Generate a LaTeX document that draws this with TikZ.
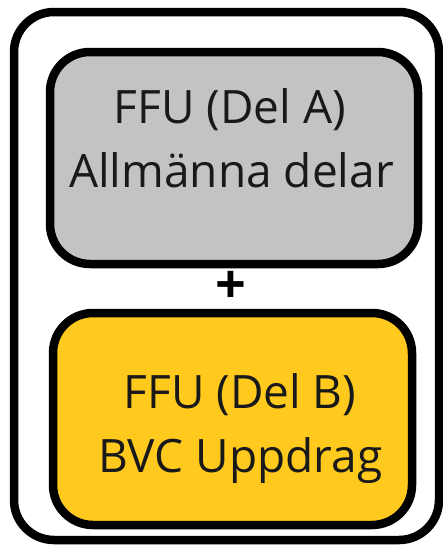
\documentclass[tikz,border=0pt]{standalone}
\usepackage{fontspec}
\setmainfont{Open Sans}
\begin{document}
\begin{tikzpicture}[x=1pt,y=-1pt,
  frame/.style={draw=black,line width=8.5pt,rounded corners=40pt,inner sep=0pt},
  boxA/.style={frame,fill=boxgray},
  boxB/.style={frame,fill=boxyellow},
  lbl/.style={anchor=base,inner sep=0pt,font=\fontsize{46}{52}\selectfont,text=black!90},
  plus/.style={inner sep=0pt,font=\fontsize{54}{60}\selectfont\bfseries}]
\definecolor{boxgray}{HTML}{C3C3C3}
\definecolor{boxyellow}{HTML}{FFC91E}
\useasboundingbox (0,0) rectangle (443,547);
\node[frame,minimum width=425pt,minimum height=528pt] (outer) at (226.5,276) {};
\node[boxA,minimum width=368pt,minimum height=212pt] (a) at (234,158) {};
\node[boxB,minimum width=359pt,minimum height=212pt] (b) at (232.5,419) {};
\node[lbl] (a1) at (230,123) {FFU (Del A)};
\node[lbl] (a2) at (231.5,187) {Allmänna delar};
\node[lbl] (b1) at (240,408) {FFU (Del B)};
\node[lbl] (b2) at (240.5,472) {BVC Uppdrag};
\node[plus] (p) at (230.5,287) {+};
\end{tikzpicture}
\end{document}
